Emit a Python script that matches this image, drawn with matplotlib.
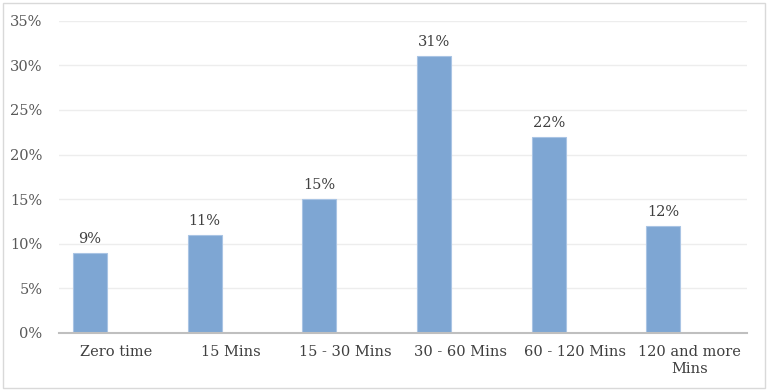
import matplotlib
matplotlib.use("Agg")
import matplotlib.pyplot as plt
from matplotlib.patches import Rectangle
import numpy as np

categories = ["Zero time", "15 Mins", "15 - 30 Mins", "30 - 60 Mins", "60 - 120 Mins", "120 and more\nMins"]
values = [9, 11, 15, 31, 22, 12]
yticks = [0, 5, 10, 15, 20, 25, 30, 35]

plt.rcParams['font.family'] = ['DejaVu Serif']

fig = plt.figure(figsize=(7.68, 3.91), dpi=100)
ax = fig.add_axes([59/768, 1 - 333/391, (747-59)/768, (333-20.7)/391])

x = np.arange(len(categories))
ax.bar(x - 0.23, values, width=0.296, color="#7ea6d3", edgecolor="#a9c4e4", linewidth=0.8, zorder=3)
for xi, v in zip(x, values):
    ax.text(xi - 0.23, v + 0.8, f"{v}%", ha="center", va="bottom", fontsize=10.5, color="#404040")

ax.set_xlim(-0.5, len(categories) - 0.5)
ax.set_ylim(0, 35)
ax.set_yticks(yticks)
ax.set_yticklabels([f"{t}%" for t in yticks], fontsize=10.5, color="#595959")
ax.set_xticks(x)
ax.set_xticklabels(categories, fontsize=10.5, color="#404040", linespacing=1.25)
ax.tick_params(axis="both", length=0)
ax.tick_params(axis="x", pad=9)
ax.tick_params(axis="y", pad=12)
ax.yaxis.grid(True, color="#ededed", linewidth=1, zorder=0)
for s in ["top", "right", "left"]:
    ax.spines[s].set_visible(False)
ax.spines["bottom"].set_color("#bfbfbf")
ax.spines["bottom"].set_linewidth(1.5)
ax.spines["bottom"].set_zorder(4)

fig.patches.append(Rectangle((3/768, 3/391), 762/768, 385/391, transform=fig.transFigure,
                             fill=False, edgecolor="#d9d9d9", linewidth=1))

fig.savefig("out.png", dpi=100)
